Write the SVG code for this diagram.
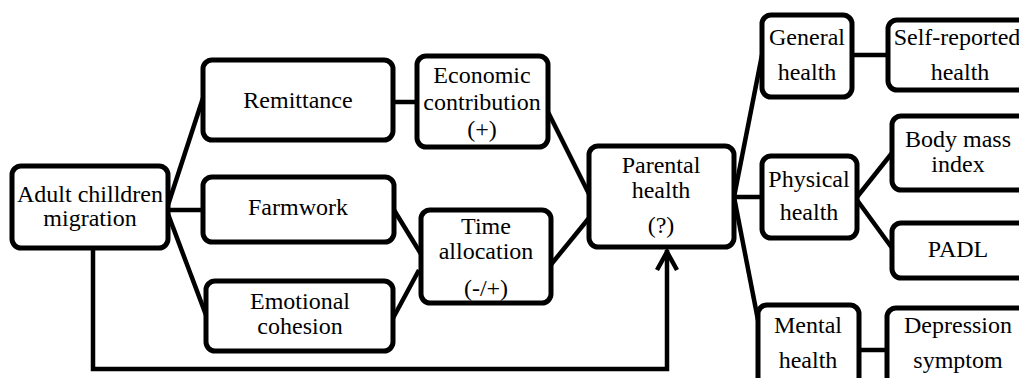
<svg xmlns="http://www.w3.org/2000/svg" width="1019" height="378" viewBox="0 0 1019 378">
<style>
.box{fill:#fff;stroke:#000;stroke-width:5}
.ln{fill:none;stroke:#000;stroke-width:4.5;stroke-linecap:butt;stroke-linejoin:miter}
.t{font-family:'Liberation Serif','Times New Roman','DejaVu Serif',serif;font-size:24px;fill:#000;text-anchor:middle}
</style>
<rect width="1019" height="378" fill="#fff"/>
<g id="connectors">
<line class="ln" x1="168" y1="205" x2="203" y2="98"/>
<line class="ln" x1="168" y1="210" x2="203" y2="210"/>
<line class="ln" x1="168" y1="214" x2="206" y2="315"/>
<line class="ln" x1="393" y1="102" x2="417" y2="102"/>
<line class="ln" x1="394" y1="210" x2="421" y2="254"/>
<line class="ln" x1="392" y1="320" x2="419" y2="270"/>
<line class="ln" x1="548" y1="112" x2="589" y2="194"/>
<line class="ln" x1="549" y1="267" x2="589" y2="218"/>
<polyline class="ln" points="93,248 93,369 667,369 667,250" stroke-width="5"/>
<polyline class="ln" points="657,270 667,252 677,270" stroke-width="5"/>
<line class="ln" x1="734" y1="197" x2="762" y2="55"/>
<line class="ln" x1="734" y1="197" x2="762" y2="197"/>
<line class="ln" x1="734" y1="197" x2="758" y2="320"/>
<line class="ln" x1="852" y1="55" x2="888" y2="55"/>
<line class="ln" x1="857" y1="197" x2="892" y2="153"/>
<line class="ln" x1="857" y1="200" x2="892" y2="248"/>
<line class="ln" x1="859" y1="350" x2="887" y2="350"/>
</g>
<g class="t" font-family="Liberation Serif, serif">
<g id="adult"><rect class="box" x="12" y="166" width="156" height="82" rx="9"/><text x="90" y="202">Adult chilldren</text><text x="90" y="226">migration</text></g>
<g id="remittance"><rect class="box" x="203" y="60" width="190" height="80" rx="9"/><text x="298" y="108">Remittance</text></g>
<g id="farmwork"><rect class="box" x="203" y="177" width="191" height="65" rx="9"/><text x="298" y="215">Farmwork</text></g>
<g id="emotional"><rect class="box" x="206" y="281" width="187" height="70" rx="9"/><text x="300" y="309">Emotional</text><text x="300" y="334">cohesion</text></g>
<g id="economic"><rect class="box" x="417" y="56" width="131" height="91" rx="9"/><text x="482" y="83">Economic</text><text x="482" y="110">contribution</text><text x="482" y="137">(+)</text></g>
<g id="time"><rect class="box" x="421" y="210" width="130" height="93" rx="9"/><text x="486" y="234">Time</text><text x="486" y="259">allocation</text><text x="486" y="296">(-/+)</text></g>
<g id="parental"><rect class="box" x="589" y="146" width="145" height="101" rx="9"/><text x="661" y="173">Parental</text><text x="661" y="198">health</text><text x="661" y="233">(?)</text></g>
<g id="general"><rect class="box" x="762" y="15" width="90" height="82" rx="9"/><text x="807" y="45">General</text><text x="807" y="80">health</text></g>
<g id="physical"><rect class="box" x="762" y="156" width="95" height="82" rx="9"/><text x="809" y="187">Physical</text><text x="809" y="220">health</text></g>
<g id="mental"><rect class="box" x="758" y="305" width="101" height="90" rx="9"/><text x="808" y="333">Mental</text><text x="808" y="368">health</text></g>
<g id="selfreported"><rect class="box" x="888" y="20" width="140" height="70" rx="9"/><text x="957" y="45">Self-reported</text><text x="960" y="80">health</text></g>
<g id="bmi"><rect class="box" x="892" y="116" width="140" height="74" rx="9"/><text x="958" y="147">Body mass</text><text x="958" y="172">index</text></g>
<g id="padl"><rect class="box" x="892" y="223" width="140" height="55" rx="9"/><text x="958" y="257">PADL</text></g>
<g id="depression"><rect class="box" x="887" y="308" width="140" height="90" rx="9"/><text x="958" y="333">Depression</text><text x="958" y="368">symptom</text></g>
</g>
</svg>
